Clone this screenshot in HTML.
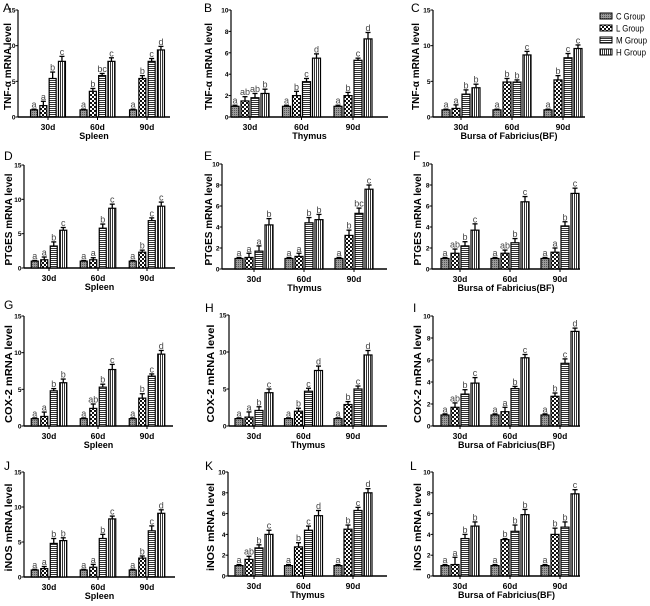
<!DOCTYPE html>
<html><head><meta charset="utf-8"><style>
html,body{margin:0;padding:0;background:#fff;}
svg text{font-family:"Liberation Sans",sans-serif;}
</style></head><body>
<svg id="fig" width="650" height="601" viewBox="0 0 650 601" xmlns="http://www.w3.org/2000/svg">
<defs>
<pattern id="pC" width="2" height="2" patternUnits="userSpaceOnUse"><rect width="2" height="2" fill="#9a9a9a"/><rect width="1" height="1" fill="#555"/></pattern>
<pattern id="pL" width="4" height="4" patternUnits="userSpaceOnUse"><rect width="4" height="4" fill="#fff"/><rect width="2" height="2" fill="#111"/><rect x="2" y="2" width="2" height="2" fill="#111"/></pattern>
<pattern id="pM" width="3" height="2" patternUnits="userSpaceOnUse"><rect width="3" height="2" fill="#fff"/><rect width="3" height="1" fill="#333"/></pattern>
<pattern id="pH" width="2" height="3" patternUnits="userSpaceOnUse"><rect width="2" height="3" fill="#fff"/><rect width="1" height="3" fill="#333"/></pattern>
</defs>
<g id="legend">
<g><rect x="600" y="13" width="12" height="6" fill="url(#pC)" stroke="#000" stroke-width="1"/><text x="616" y="19.5" font-size="9" textLength="29" lengthAdjust="spacingAndGlyphs">C Group</text></g>
<g><rect x="600" y="25" width="12" height="6" fill="url(#pL)" stroke="#000" stroke-width="1"/><text x="616" y="31.5" font-size="9" textLength="28" lengthAdjust="spacingAndGlyphs">L Group</text></g>
<g><rect x="600" y="37" width="12" height="6" fill="url(#pM)" stroke="#000" stroke-width="1"/><text x="616" y="43.5" font-size="9" textLength="31" lengthAdjust="spacingAndGlyphs">M Group</text></g>
<g><rect x="600" y="49" width="12" height="6" fill="url(#pH)" stroke="#000" stroke-width="1"/><text x="616" y="55.5" font-size="9" textLength="30" lengthAdjust="spacingAndGlyphs">H Group</text></g>
</g>
</svg>
<script>
const categories = ["30d","60d","90d"];
const groups = ["C","L","M","H"];
const valA=[1,1.6,5.4,7.8, 1,3.6,5.8,7.8, 1,5.4,7.8,9.4];
const errA=[0.1,0.6,0.9,0.7, 0.1,0.4,0.3,0.5, 0.1,0.4,0.4,0.5];
const letA=["a","a","b","c","a","b","bc","c","a","b","c","d"];
const valB=[1,1.5,1.8,2.2, 1,2,3.3,5.5, 1,2,5.3,7.3];
const errB=[0.1,0.4,0.4,0.4, 0.1,0.4,0.3,0.4, 0.1,0.3,0.2,0.6];
const letB=["a","ab","ab","b","a","b","c","d","a","b","c","d"];
const valC=[1,1.2,3.2,4.1, 1,4.9,4.9,8.7, 1,5.2,8.3,9.6];
const errC=[0.1,0.5,0.6,0.5, 0.1,0.5,0.3,0.5, 0.1,0.6,0.6,0.5];
const letC=["a","a","b","b","a","b","b","c","a","b","c","c"];
const valD=[1,1.2,3.2,5.5, 1,1.2,5.8,8.7, 1,2.3,6.9,9];
const errD=[0.1,0.4,0.6,0.4, 0.1,0.3,0.6,0.6, 0.1,0.3,0.4,0.6];
const letD=["a","a","b","c","a","a","b","c","a","b","c","c"];
const valE=[1,1.1,1.7,4.2, 1,1.2,4.4,4.7, 1,3.2,5.3,7.6];
const errE=[0.1,0.4,0.5,0.6, 0.1,0.3,0.5,0.5, 0.1,0.5,0.5,0.4];
const letE=["a","a","a","b","a","a","b","b","a","b","bc","c"];
const valF=[1,1.5,2.2,3.7, 1,1.5,2.5,6.4, 1,1.6,4.1,7.2];
const errF=[0.1,0.4,0.4,0.6, 0.1,0.3,0.4,0.5, 0.1,0.4,0.4,0.5];
const letF=["a","ab","b","c","a","ab","b","c","a","a","b","c"];
const valG=[1,1.3,4.8,5.9, 1,2.4,5.3,7.7, 1,3.8,6.8,9.8];
const errG=[0.1,0.6,0.3,0.5, 0.1,0.6,0.4,0.7, 0.1,0.6,0.3,0.5];
const letG=["a","a","b","b","a","ab","b","c","a","b","c","d"];
const valH=[1,1.2,2.1,4.5, 1,2,4.7,7.5, 1,2.9,5,9.6];
const errH=[0.1,0.7,0.5,0.5, 0.1,0.4,0.4,0.6, 0.1,0.4,0.4,0.6];
const letH=["a","a","b","c","a","b","c","d","a","b","c","d"];
const valI=[1,1.7,2.9,3.9, 1,1.3,3.4,6.2, 1,2.7,5.7,8.6];
const errI=[0.1,0.4,0.4,0.5, 0.1,0.4,0.2,0.3, 0.1,0.3,0.4,0.3];
const letI=["a","ab","b","c","a","a","b","c","a","b","c","d"];
const valJ=[1,1.2,4.8,5.2, 1,1.4,5.5,8.3, 1,2.7,6.6,9.1];
const errJ=[0.1,0.3,0.7,0.4, 0.1,0.4,0.6,0.4, 0.1,0.3,0.7,0.5];
const letJ=["a","a","b","b","a","a","b","c","a","b","c","d"];
const valK=[1,1.6,2.7,4, 1,2.8,4.4,5.8, 1,4.5,6.3,8];
const errK=[0.1,0.3,0.3,0.4, 0.1,0.4,0.4,0.5, 0.1,0.4,0.3,0.4];
const letK=["a","ab","b","c","a","b","c","d","a","b","c","d"];
const valL=[1,1.1,3.6,4.8, 1,3.5,4.3,5.9, 1,4,4.7,7.9];
const errL=[0.1,0.7,0.4,0.4, 0.1,0.1,0.6,0.5, 0.1,0.6,0.5,0.4];
const letL=["a","a","b","b","a","b","b","b","a","b","b","c"];
const yTicks15=["0","5","10","15"];
const yTicks10=["0","2","4","6","8","10"];

const NS="http://www.w3.org/2000/svg";
const svg=document.getElementById('fig');
const fills=["url(#pC)","url(#pL)","url(#pM)","url(#pH)"];
function mk(tag,attrs,parent){const e=document.createElementNS(NS,tag);for(const k in attrs)e.setAttribute(k,attrs[k]);parent.appendChild(e);return e;}

const panels=[
 {id:"A",vals:valA,errs:errA,lets:letA,ticks:yTicks15,x0:18,x1:170,y0:117,yt:10,c0:48,sp:49.5,slot:9.3,bw:7,yl:"TNF-α  mRNA level",tl:87,org:"Spleen",lx:3,ly:12,tx:8},
 {id:"B",vals:valB,errs:errB,lets:letB,ticks:yTicks10,x0:231,x1:388,y0:117,yt:10,c0:250,sp:51.5,slot:10,bw:8,yl:"TNF-α  mRNA level",tl:87,org:"Thymus",lx:204,ly:12,tx:209},
 {id:"C",vals:valC,errs:errC,lets:letC,ticks:yTicks15,x0:433,x1:585,y0:117,yt:10,c0:461,sp:51,slot:10,bw:8,yl:"TNF-α  mRNA level",tl:87,org:"Bursa of Fabricius(BF)",lx:411,ly:12,tx:416},
 {id:"D",vals:valD,errs:errD,lets:letD,ticks:yTicks15,x0:24,x1:175,y0:268,yt:165,c0:49,sp:49,slot:9.5,bw:7,yl:"PTGES mRNA level",tl:92,org:"Spleen",lx:4,ly:160,tx:9},
 {id:"E",vals:valE,errs:errE,lets:letE,ticks:yTicks10,x0:222,x1:387,y0:269,yt:164,c0:254,sp:50,slot:10,bw:8,yl:"PTGES mRNA level",tl:92,org:"Thymus",lx:204,ly:160,tx:209},
 {id:"F",vals:valF,errs:errF,lets:letF,ticks:yTicks10,x0:432,x1:580,y0:269,yt:164,c0:460,sp:50,slot:10,bw:8,yl:"PTGES mRNA level",tl:92,org:"Bursa of Fabricius(BF)",lx:413,ly:160,tx:418},
 {id:"G",vals:valG,errs:errG,lets:letG,ticks:yTicks15,x0:24,x1:173,y0:426,yt:316,c0:49,sp:49,slot:9.5,bw:7,yl:"COX-2 mRNA level",tl:98,org:"Spleen",lx:4,ly:309,tx:9},
 {id:"H",vals:valH,errs:errH,lets:letH,ticks:yTicks15,x0:229,x1:387,y0:426,yt:315,c0:254,sp:49.5,slot:10,bw:8,yl:"COX-2 mRNA level",tl:98,org:"Thymus",lx:205,ly:312,tx:211},
 {id:"I",vals:valI,errs:errI,lets:letI,ticks:yTicks10,x0:433,x1:580,y0:426,yt:316,c0:460,sp:50,slot:10,bw:8,yl:"COX-2 mRNA level",tl:98,org:"Bursa of Fabricius(BF)",lx:413,ly:312,tx:418},
 {id:"J",vals:valJ,errs:errJ,lets:letJ,ticks:yTicks15,x0:24,x1:175,y0:577,yt:472,c0:49,sp:49,slot:9.5,bw:7,yl:"iNOS mRNA level",tl:88,org:"Spleen",lx:4,ly:470,tx:9},
 {id:"K",vals:valK,errs:errK,lets:letK,ticks:yTicks10,x0:228,x1:387,y0:576,yt:472,c0:254,sp:49.5,slot:10,bw:8,yl:"iNOS mRNA level",tl:88,org:"Thymus",lx:205,ly:470,tx:211},
 {id:"L",vals:valL,errs:errL,lets:letL,ticks:yTicks10,x0:433,x1:580,y0:576,yt:472,c0:460,sp:50,slot:10,bw:8,yl:"iNOS mRNA level",tl:88,org:"Bursa of Fabricius(BF)",lx:410,ly:470,tx:418}
];

panels.forEach(p=>{
 const g=mk('g',{},svg);
 
 
 const ymax=parseFloat(p.ticks[p.ticks.length-1]);
 const yS=v=>p.y0-(v/ymax)*(p.y0-p.yt);
 const xG=i=>p.c0+i*p.sp;
 const lab=mk('text',{x:p.lx,y:p.ly,'font-size':12},g);lab.textContent=p.id;
 
 
 const cy=(p.y0+p.yt)/2+3;
 const yt=mk('text',{x:p.tx,y:cy,'font-size':10.5,'font-weight':'bold','text-anchor':'middle',textLength:p.tl,lengthAdjust:'spacingAndGlyphs',transform:`rotate(-90 ${p.tx} ${cy})`,'dominant-baseline':'middle'},g);yt.textContent=p.yl;
 
 
 mk('line',{x1:p.x0,y1:p.yt,x2:p.x0,y2:p.y0,stroke:'#000','stroke-width':1.2},g);
 mk('line',{x1:p.x0,y1:p.y0,x2:p.x1,y2:p.y0,stroke:'#000','stroke-width':1.5},g);
 p.ticks.forEach(t=>{
  const y=yS(parseFloat(t));
  mk('line',{x1:p.x0-2.5,y1:y,x2:p.x0,y2:y,stroke:'#000','stroke-width':1},g);
  const tt=mk('text',{x:p.x0-2.5,y:y+2.5,'font-size':6.5,'font-weight':'bold','text-anchor':'end'},g);tt.textContent=t;
  
  
 });
 categories.forEach((c,i)=>{
  mk('line',{x1:xG(i),y1:p.y0,x2:xG(i),y2:p.y0+3,stroke:'#000','stroke-width':1},g);
  const ct=mk('text',{x:xG(i),y:p.y0+13,'font-size':8.5,'font-weight':'bold','text-anchor':'middle'},g);ct.textContent=c;
  
  
  groups.forEach((gr,j)=>{
   const k=i*4+j, v=p.vals[k], e=p.errs[k];
   const cx=xG(i)+(j-1.5)*p.slot;
   const top=yS(v), et=yS(v+e);
   const b=mk('rect',{x:cx-p.bw/2,y:top,width:p.bw,height:p.y0-top,fill:fills[j],stroke:'#000','stroke-width':1.2},g);
   
   
   mk('line',{x1:cx,y1:top,x2:cx,y2:et,stroke:'#000','stroke-width':1.3},g);
   mk('line',{x1:cx-2.5,y1:et,x2:cx+2.5,y2:et,stroke:'#000','stroke-width':1.3},g);
   const lt=mk('text',{x:cx,y:et-1.5,'font-size':9,fill:'#444','text-anchor':'middle'},g);lt.textContent=p.lets[k];
   
   
  });
 });
 const xt=mk('text',{x:(p.x0+p.x1)/2,y:p.y0+22,'font-size':9,'font-weight':'bold','text-anchor':'middle'},g);xt.textContent=p.org;
 
 
});
</script>
</body></html>
